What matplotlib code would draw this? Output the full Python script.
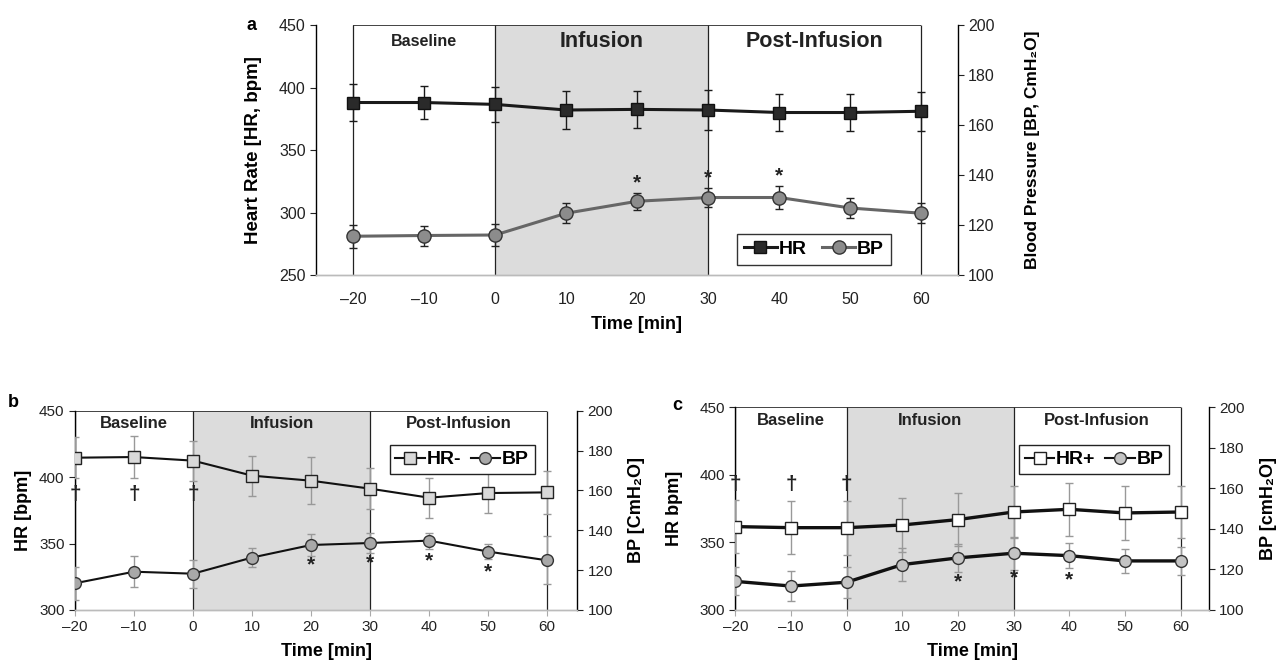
import matplotlib
matplotlib.use("Agg")
import matplotlib.pyplot as plt
from matplotlib.lines import Line2D

# time points (min)
time = [-20, -10, 0, 10, 20, 30, 40, 50, 60]
tick_labels = ["\u201320", "\u201310", "0", "10", "20", "30", "40", "50", "60"]

# panel a
a_hr = [388, 388, 386.5, 382, 382.5, 382, 380, 380, 381]
a_hr_err = [15, 13, 14, 15, 15, 16, 15, 15, 15.5]
a_bp = [115.5, 115.8, 116, 124.7, 129.5, 131, 131, 126.8, 124.7]
a_bp_err = [4.5, 4, 4.5, 4, 3.5, 3.7, 4.5, 4, 4]
a_stars = [20, 30, 40]

# panel b
b_hr = [414.6, 415.1, 412.4, 401.1, 397.3, 391.3, 384.5, 388, 388.5]
b_hr_err = [15.5, 15.5, 15, 15, 17.5, 15.5, 15, 15, 16]
b_bp = [113.4, 119.2, 118.2, 126.3, 132.6, 133.6, 134.8, 129.3, 124.9]
b_bp_err = [8.3, 7.9, 7, 4.7, 5.4, 5, 4, 3.8, 12]
b_stars = [20, 30, 40, 50]
b_daggers = [-20, -10, 0]

# panel c
c_hr = [361.7, 360.9, 360.9, 362.9, 366.9, 372.5, 374.5, 371.8, 372.5]
c_hr_err = [19.5, 19.7, 20, 20, 19.7, 19, 19.5, 19.7, 19.4]
c_bp = [114.1, 111.8, 113.7, 122.4, 125.7, 128, 126.8, 124.2, 124.2]
c_bp_err = [6.9, 7.4, 7.6, 8.2, 6.9, 8.2, 6.2, 6, 7]
c_stars = [20, 30, 40]
c_daggers = [-20, -10, 0]

# phases
phase_names = ["Baseline", "Infusion", "Post-Infusion"]
phase_edges = [-20, 0, 30, 60]

ARIAL = ["Liberation Sans", "DejaVu Sans"]

plt.rcParams["font.family"] = ARIAL
plt.rcParams["axes.linewidth"] = 1.0

fig = plt.figure(figsize=(12.82, 6.67), dpi=100)


# draws the phase boxes and grey infusion band
def phases(ax, hr_lim, name_sizes, name_y):
    ax.axvspan(phase_edges[1], phase_edges[2], color="#dcdcdc", zorder=0, lw=0)
    ax.vlines(phase_edges, hr_lim[0], hr_lim[1], color="#222222", lw=0.9, zorder=1)
    ax.hlines(hr_lim[1], phase_edges[0], phase_edges[-1], color="#222222", lw=1.2, zorder=1)
    for i in range(3):
        mid = (phase_edges[i] + phase_edges[i + 1]) / 2
        ax.text(mid, name_y, phase_names[i], ha="center", va="center",
                fontsize=name_sizes[i], fontweight="bold", color="#222222", zorder=5)


# sets up the spines and ticks of one panel
def axes_style(ax, ax2, hr_lim, hr_ticks, xlim, xticks_on, lsize):
    ax.set_xlim(xlim)
    ax.set_ylim(hr_lim)
    ax2.set_ylim(100, 200)
    ax.set_yticks(hr_ticks)
    ax2.set_yticks(range(100, 201, 20))
    ax.set_xticks(time)
    ax.set_xticklabels(tick_labels)
    for a in (ax, ax2):
        a.spines["top"].set_visible(False)
        a.spines["bottom"].set_color("#bbbbbb")
    ax2.spines["left"].set_visible(False)
    ax.spines["right"].set_visible(False)
    ax.tick_params(axis="y", direction="out", length=4, labelsize=lsize, colors="#222222")
    ax2.tick_params(axis="y", direction="out", length=4, labelsize=lsize, colors="#222222")
    if xticks_on:
        ax.tick_params(axis="x", direction="out", length=4, color="#aaaaaa", labelsize=lsize,
                       labelcolor="#222222")
    else:
        ax.tick_params(axis="x", length=0, labelsize=lsize, labelcolor="#222222", pad=12)


# panel a
ax = fig.add_axes([0.2465, 0.5877, 0.5005, 0.3748])
ax2 = ax.twinx()
axes_style(ax, ax2, (250, 450), range(250, 451, 50), (-25.2, 65.1), False, 11.5)
phases(ax, (250, 450), [11.5, 15.5, 15.5], 437)
ax.errorbar(time, a_hr, yerr=a_hr_err, color="#1a1a1a", lw=2.2, marker="s", ms=9,
            mfc="#2a2a2a", mec="#111111", ecolor="#1a1a1a", elinewidth=1.0, capsize=3,
            zorder=3)
ax2.errorbar(time, a_bp, yerr=a_bp_err, color="#666666", lw=2.2, marker="o", ms=9.5,
             mfc="#8c8c8c", mec="#333333", ecolor="#222222", elinewidth=1.0, capsize=3,
             zorder=3)
for s in a_stars:
    i = time.index(s)
    ax2.text(s, a_bp[i] + a_bp_err[i] + 4, "*", ha="center", va="center",
             fontsize=15, fontweight="bold", color="#222222")
ax.set_ylabel("Heart Rate [HR, bpm]", fontsize=13.5, fontweight="bold", labelpad=12)
ax2.set_ylabel("Blood Pressure [BP, CmH\u2082O]", fontsize=12.5, fontweight="bold",
               labelpad=22)
ax.set_xlabel("Time [min]", fontsize=13, fontweight="bold", labelpad=7)
h_a = [Line2D([], [], color="#1a1a1a", lw=2.2, marker="s", ms=9, mfc="#2a2a2a", mec="#111111"),
       Line2D([], [], color="#666666", lw=2.2, marker="o", ms=9.5, mfc="#8c8c8c", mec="#333333")]
leg = ax2.legend(h_a, ["HR", "BP"], ncol=2, loc="lower right", bbox_to_anchor=(0.896, 0.04),
                 borderaxespad=0, fancybox=False, edgecolor="#333333", framealpha=1,
                 handlelength=1.7, handletextpad=0.1, columnspacing=0.8, borderpad=0.35,
                 prop={"weight": "bold", "size": 14})
leg.get_frame().set_linewidth(1.0)
fig.text(0.192, 0.975, "a", fontsize=13, fontweight="bold", va="top")


# panels b and c
def small_panel(rect, hr, hr_err, bp, bp_err, stars, daggers, dag_y, star_off,
                hr_face, bp_face, lw, hr_name, ylab_l, ylab_r, lpad, leg_anchor,
                letter, letter_xy):
    ax = fig.add_axes(rect)
    ax2 = ax.twinx()
    axes_style(ax, ax2, (300, 450), range(300, 451, 50), (-20, 65.1), True, 11)
    phases(ax, (300, 450), [12, 12, 12], 440)
    ax.errorbar(time, hr, yerr=hr_err, color="#111111", lw=lw, marker="s", ms=8.5,
                mfc=hr_face, mec="#222222", ecolor="#999999", elinewidth=1.0, capsize=3,
                zorder=3)
    ax2.errorbar(time, bp, yerr=bp_err, color="#111111", lw=lw, marker="o", ms=8.5,
                 mfc=bp_face, mec="#333333", ecolor="#999999", elinewidth=1.0, capsize=3,
                 zorder=3)
    for s in stars:
        i = time.index(s)
        ax2.text(s, bp[i] - star_off, "*", ha="center", va="center",
                 fontsize=15, fontweight="bold", color="#222222")
    for d in daggers:
        ax.text(d, dag_y, "\u2020", ha="center", va="center", fontsize=15,
                fontweight="bold", color="#222222", zorder=4)
    ax.set_ylabel(ylab_l, fontsize=13, fontweight="bold", labelpad=lpad)
    ax2.set_ylabel(ylab_r, fontsize=13, fontweight="bold", labelpad=11)
    ax.set_xlabel("Time [min]", fontsize=13, fontweight="bold", labelpad=6)
    h = [Line2D([], [], color="#111111", lw=1.5, marker="s", ms=8.5, mfc=hr_face, mec="#222222"),
         Line2D([], [], color="#111111", lw=1.5, marker="o", ms=8.5, mfc=bp_face, mec="#333333")]
    leg = ax2.legend(h, [hr_name, "BP"], ncol=2, loc="upper right", bbox_to_anchor=leg_anchor,
                     borderaxespad=0, fancybox=False, edgecolor="#222222", framealpha=1,
                     handlelength=1.5, handletextpad=0.1, columnspacing=0.5, borderpad=0.3,
                     prop={"weight": "bold", "size": 14})
    leg.get_frame().set_linewidth(1.0)
    fig.text(letter_xy[0], letter_xy[1], letter, fontsize=13, fontweight="bold", va="top")


small_panel([0.0585, 0.0855, 0.3918, 0.2988], b_hr, b_hr_err, b_bp, b_bp_err, b_stars,
            b_daggers, 387, 10, "#d9d9d9", "#a8a8a8", 1.5, "HR-", "HR [bpm]",
            "BP [CmH\u2082O]", 5, (0.915, 0.828), "b", (0.006, 0.41))
small_panel([0.5737, 0.0855, 0.3693, 0.3039], c_hr, c_hr_err, c_bp, c_bp_err, c_stars,
            c_daggers, 393, 12, "#ffffff", "#c4c4c4", 2.4, "HR+", "HR bpm]",
            "BP [cmH\u2082O]", 12, (0.916, 0.814), "c", (0.524, 0.405))

fig.savefig("out.png", dpi=100)
